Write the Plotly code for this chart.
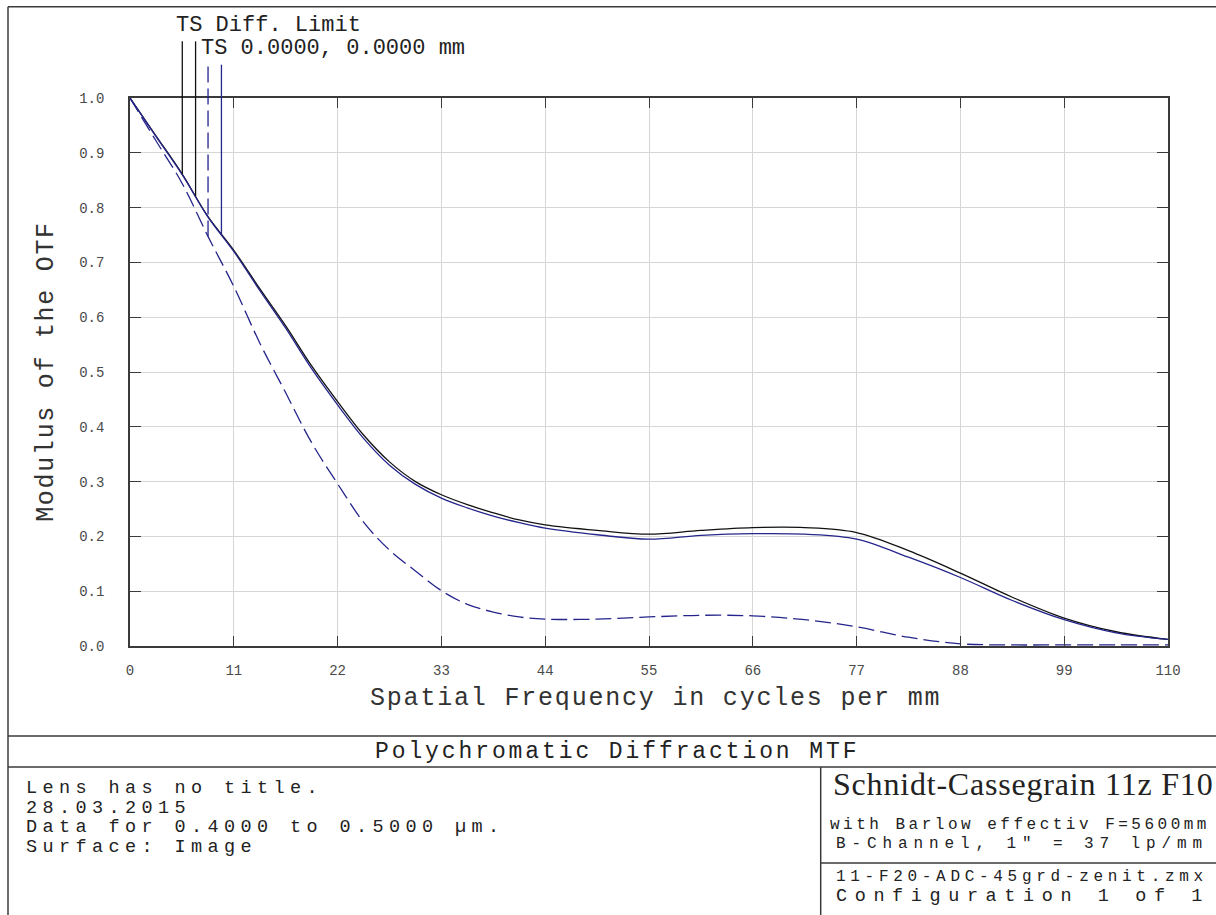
import numpy as np
import plotly.graph_objects as go

# ---------------- data ----------------
freq = [0, 2.75, 5.5, 8.25, 11, 13.75, 16.5, 19.25, 22, 24.75, 27.5, 30.25, 33,
        35.75, 38.5, 41.25, 44, 49.5, 55, 60.5, 66, 71.5, 77, 82.5, 88, 93.5,
        99, 104.5, 110]

diff_limit = [1.0, 0.931, 0.862, 0.784, 0.722, 0.652, 0.584, 0.511, 0.446, 0.385,
              0.336, 0.300, 0.276, 0.258, 0.243, 0.230, 0.221, 0.211, 0.204, 0.211,
              0.216, 0.216, 0.207, 0.174, 0.133, 0.089, 0.051, 0.026, 0.012]

field_s = [1.0, 0.930, 0.861, 0.783, 0.720, 0.649, 0.580, 0.506, 0.440, 0.379,
           0.330, 0.295, 0.270, 0.252, 0.237, 0.225, 0.215, 0.203, 0.195, 0.202,
           0.205, 0.204, 0.195, 0.162, 0.125, 0.083, 0.048, 0.024, 0.012]

field_t = [1.0, 0.922, 0.845, 0.748, 0.656, 0.553, 0.462, 0.371, 0.296, 0.226,
           0.175, 0.137, 0.101, 0.076, 0.062, 0.053, 0.049, 0.049, 0.053, 0.056,
           0.055, 0.048, 0.035, 0.016, 0.004, 0.002, 0.002, 0.002, 0.002]

x_ticks = [0, 11, 22, 33, 44, 55, 66, 77, 88, 99, 110]
x_tick_labels = ["0", "11", "22", "33", "44", "55", "66", "77", "88", "99", "110"]
y_ticks = [0.0, 0.1, 0.2, 0.3, 0.4, 0.5, 0.6, 0.7, 0.8, 0.9, 1.0]
y_tick_labels = ["0.0", "0.1", "0.2", "0.3", "0.4", "0.5", "0.6", "0.7", "0.8", "0.9", "1.0"]

# legend key positions (frequency where each key line meets its curve)
legend_key_freq = [5.54, 6.95, 8.27, 9.69]

left_info = ["Lens has no title.", "28.03.2015",
             "Data for 0.4000 to 0.5000 \u00b5m.", "Surface: Image"]

# ---------------- layout helpers ----------------
W, H = 1216, 915
PL, PR, PT, PB = 130, 1168, 98.3, 646.0


def px(x):
    return (x - PL) / (PR - PL)


def py(y):
    return (PB - y) / (PB - PT)


MONO = "Liberation Mono, Courier New, monospace"
SERIF = "Liberation Serif, Times New Roman, serif"
BLUE = "#25258c"
BLACK = "#111111"
FRAME = "#3a3a3a"

fig = go.Figure()

fig.add_trace(go.Scatter(x=freq, y=diff_limit, mode="lines", line_shape="spline",
                         line=dict(color=BLACK, width=1.3), name="TS Diff. Limit"))
fig.add_trace(go.Scatter(x=freq, y=field_s, mode="lines", line_shape="spline",
                         line=dict(color=BLUE, width=1.3), name="S 0.0000 mm"))
fig.add_trace(go.Scatter(x=freq, y=field_t, mode="lines", line_shape="spline",
                         line=dict(color=BLUE, width=1.3, dash="16px,6px"),
                         name="T 0.0000 mm"))

shapes = []
# legend key lines (from label area down to the curve)
key_curves = [diff_limit, diff_limit, field_t, field_s]
key_tops = [41.7, 41.7, 65.0, 65.0]
key_colors = [BLACK, BLACK, BLUE, BLUE]
key_dash = ["solid", "solid", "16px,6px", "solid"]
for f, curve, top, col, dsh in zip(legend_key_freq, key_curves, key_tops, key_colors, key_dash):
    yv = float(np.interp(f, freq, curve))
    shapes.append(dict(type="line", xref="x", yref="paper", x0=f, x1=f,
                       y0=yv, y1=py(top), line=dict(color=col, width=1.3, dash=dsh)))


def hline(y, x0, x1):
    shapes.append(dict(type="line", xref="paper", yref="paper", x0=px(x0), x1=px(x1),
                       y0=py(y), y1=py(y), line=dict(color=FRAME, width=1.5)))


def vline(x, y0, y1):
    shapes.append(dict(type="line", xref="paper", yref="paper", x0=px(x), x1=px(x),
                       y0=py(y0), y1=py(y1), line=dict(color=FRAME, width=1.5)))


hline(7, 8, 1240)
vline(8, 7, 930)
hline(736, 8, 1240)
hline(767, 8, 1240)
vline(820.7, 767, 930)
hline(863, 820.7, 1240)

annotations = []


def sp(t, size, ls):
    """Wrap text with a font size and letter spacing (px)."""
    return "<span style='font-size:%.1fpx;letter-spacing:%.2fpx'>%s</span>" % (size, ls, t)


def mono(t, size, pxchar):
    return sp(t, size, pxchar - 0.6 * size)


def text(t, x, y, size, xanchor="left", font=MONO, color="#222222", angle=0):
    annotations.append(dict(text=t, x=px(x), y=py(y), xref="paper", yref="paper",
                            xanchor=xanchor, yanchor="middle", showarrow=False,
                            textangle=angle, align="left",
                            font=dict(family=font, size=size, color=color)))


text("TS Diff. Limit", 174, 25.5, 22)
text("TS 0.0000, 0.0000 mm", 199, 48.5, 22)
text(mono("Spatial Frequency in cycles per mm", 25, 16.8), 655, 698, 25,
     xanchor="center", color="#333333")
text(mono("Modulus of the OTF", 25, 16.7), 47, 372, 25, xanchor="center",
     color="#333333", angle=-90)
text(mono("Polychromatic Diffraction MTF", 23, 16.7), 617, 751.5, 23, xanchor="center")

# left information block: one text, lines 19.5 px apart
text("<br>".join(mono(s, 18.5, 16.5) for s in left_info), 24, 818, 15)

text(sp("Schnidt-Cassegrain 11z F10", 32, 0.8), 831, 784, 32, font=SERIF)
text(mono("with Barlow effectiv F=5600mm", 16, 13.1), 828, 824.5, 16)
text(mono("B-Channel, 1\" = 37 lp/mm", 16, 15.5), 834, 843.5, 16)
text(mono("11-F20-ADC-45grd-zenit.zmx", 16, 14.3), 834, 876.5, 16)
text(mono("Configuration 1 of 1", 18.5, 18.7), 834, 896, 18.5)

fig.update_layout(
    width=W, height=H,
    margin=dict(l=PL, r=W - PR, t=PT, b=H - PB, pad=0),
    paper_bgcolor="white", plot_bgcolor="white",
    showlegend=False,
    shapes=shapes, annotations=annotations,
    xaxis=dict(range=[0, 110], tickvals=x_ticks, ticktext=x_tick_labels,
               showgrid=True, gridcolor="#d6d6d6", gridwidth=1,
               showline=True, linecolor=FRAME, linewidth=1.6, mirror="ticks",
               ticks="inside", ticklen=10, tickwidth=1.4, tickcolor=FRAME,
               zeroline=False, ticklabelstandoff=10,
               tickfont=dict(family=MONO, size=14, color="#4a4a4a")),
    yaxis=dict(range=[0, 1], tickvals=y_ticks, ticktext=y_tick_labels,
               showgrid=True, gridcolor="#d6d6d6", gridwidth=1,
               showline=True, linecolor=FRAME, linewidth=1.6, mirror="ticks",
               ticks="inside", ticklen=11, tickwidth=1.4, tickcolor=FRAME,
               zeroline=False, ticklabelstandoff=21,
               tickfont=dict(family=MONO, size=14, color="#4a4a4a")),
)

fig.write_html("out.html")
